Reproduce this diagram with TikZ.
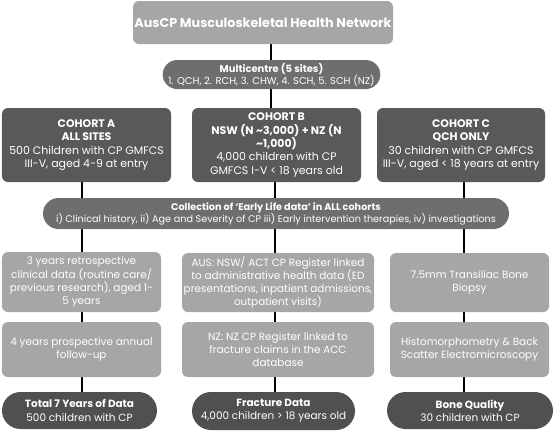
\documentclass[tikz,border=0pt]{standalone}
\usepackage{fontspec}
\setmainfont{Poppins}
\usetikzlibrary{shapes.misc,backgrounds}
\definecolor{lgray}{HTML}{A6A6A6}
\definecolor{mgray}{HTML}{6E6E6E}
\definecolor{dgray}{HTML}{595959}
\definecolor{pgray}{HTML}{505050}
\tikzset{
  box/.style={rectangle, rounded corners=6bp, text=white, align=center, inner sep=0pt,
    font=\fontsize{10.5}{13.3}\selectfont},
  lightbox/.style={box, fill=lgray},
  darkbox/.style={box, fill=dgray, font=\fontsize{11}{13.4}\selectfont},
  pill/.style={rounded rectangle, text=white, align=center, inner sep=0pt,
    font=\fontsize{10.5}{13.3}\selectfont},
  conn/.style={line width=2bp, black},
}
\begin{document}
\begin{tikzpicture}[x=1bp,y=-1bp]
\useasboundingbox (0,0) rectangle (560,432);
% column coordinates
\coordinate (colM) at (271,0);
\coordinate (colA) at (82,0);
\coordinate (colB) at (275,0);
\coordinate (colC) at (464,0);
% nodes
\node[lightbox, minimum width=260bp, minimum height=43bp, font=\bfseries\fontsize{12.8}{15}\selectfont] (top) at (263,22.5) {AusCP Musculoskeletal Health Network};
\node[pill, fill=mgray, minimum width=217bp, minimum height=29bp, font=\fontsize{10}{12}\selectfont] (multi) at (271.5,74.5) {\textbf{Multicentre (5 sites)}\\1. QCH, 2. RCH, 3. CHW, 4. SCH, 5. SCH (NZ)};
\node[darkbox, minimum width=169bp, minimum height=74bp] (cA) at (86.5,145) {\textbf{COHORT A}\\\textbf{ALL SITES}\\500 Children with CP GMFCS\\III-V, aged 4-9 at entry};
\node[darkbox, minimum width=169bp, minimum height=74bp] (cB) at (276.5,145) {\textbf{COHORT B}\\\textbf{NSW (N \textasciitilde3,000) + NZ (N}\\\textbf{\textasciitilde1,000)}\\4,000 children with CP\\GMFCS I-V < 18 years old};
\node[darkbox, minimum width=168bp, minimum height=74bp] (cC) at (461,145) {\textbf{COHORT C}\\\textbf{QCH ONLY}\\30 children with CP GMFCS\\III-V, aged < 18 years at entry};
\node[pill, fill=mgray, minimum width=466bp, minimum height=31bp, font=\fontsize{9.7}{12}\selectfont] (coll) at (276,213.5) {\textbf{Collection of ‘Early Life data’ in ALL cohorts}\\i) Clinical history, ii) Age and Severity of CP iii) Early intervention therapies, iv) investigations};
\node[lightbox, minimum width=159bp, minimum height=60bp] (rA3) at (81.5,282) {3 years retrospective\\clinical data (routine care/\\previous research), aged 1-\\5 years};
\node[lightbox, minimum width=192bp, minimum height=59bp] (rB3) at (278,282.5) {AUS: NSW/ ACT CP Register linked\\to administrative health data (ED\\presentations, inpatient admissions,\\outpatient visits)};
\node[lightbox, minimum width=159bp, minimum height=59bp] (rC3) at (469.5,282.5) {7.5mm Transiliac Bone\\Biopsy};
\node[lightbox, minimum width=159bp, minimum height=55bp] (rA4) at (81.5,349.5) {4 years prospective annual\\follow-up};
\node[lightbox, minimum width=192bp, minimum height=55bp] (rB4) at (278,349.5) {NZ: NZ CP Register linked to\\fracture claims in the ACC\\database};
\node[lightbox, minimum width=159bp, minimum height=55bp] (rC4) at (469.5,349.5) {Histomorphometry \& Back\\Scatter Electromicroscopy};
\node[pill, fill=pgray, minimum width=155bp, minimum height=37bp] (rA5) at (79.5,410.5) {\textbf{Total 7 Years of Data}\\500 children with CP};
\node[pill, fill=pgray, minimum width=163bp, minimum height=38bp] (rB5) at (273.5,411) {\textbf{Fracture Data}\\4,000 children > 18 years old};
\node[pill, fill=pgray, minimum width=166bp, minimum height=37bp] (rC5) at (470,410.5) {\textbf{Bone Quality}\\30 children with CP};
% connectors
\begin{scope}[on background layer]
\draw[conn] (colM |- top.south) -- (colM |- multi.north);
\draw[conn] (colM |- multi.south) -- (colM |- cB.north);
\draw[conn] (colA |- cA.south) -- (colA |- rA3.north);
\draw[conn] (colB |- cB.south) -- (colB |- rB3.north);
\draw[conn] (colC |- cC.south) -- (colC |- rC3.north);
\draw[conn] (colA |- rA3.south) -- (colA |- rA4.north);
\draw[conn] (colB |- rB3.south) -- (colB |- rB4.north);
\draw[conn] (colC |- rC3.south) -- (colC |- rC4.north);
\draw[conn] (colA |- rA4.south) -- (colA |- rA5.north);
\draw[conn] (colB |- rB4.south) -- (colB |- rB5.north);
\draw[conn] (colC |- rC4.south) -- (colC |- rC5.north);
\end{scope}
\end{tikzpicture}
\end{document}
